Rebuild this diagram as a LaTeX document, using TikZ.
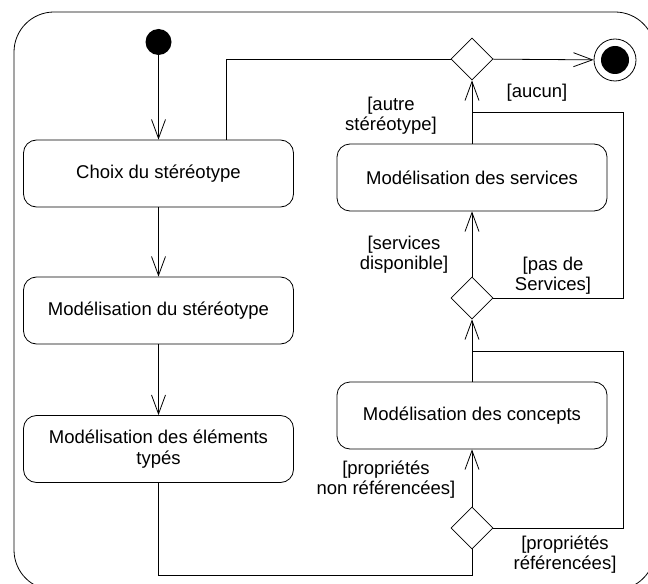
\documentclass[tikz,border=0pt]{standalone}
\usepackage{fontspec}
\setmainfont{Liberation Sans}
\usetikzlibrary{arrows.meta,shapes.geometric}
\begin{document}
\begin{tikzpicture}[x=1bp,y=-1bp, line width=0.8bp,
  act/.style={draw, rounded corners=13bp, minimum width=270bp, minimum height=67bp, align=center, font=\fontsize{18.5bp}{21bp}\selectfont, inner sep=0pt},
  dec/.style={draw, diamond, minimum width=42bp, minimum height=42bp, inner sep=0pt},
  lbl/.style={align=center, font=\fontsize{18.5bp}{20bp}\selectfont, inner sep=0pt},
  flow/.style={-{Straight Barb[length=19bp,width=14bp]}},
]
\useasboundingbox (0,0) rectangle (648,584);
\begin{scope}
\clip (0,0) rectangle (648,584);
\draw[rounded corners=40bp] (14,12) rectangle (655,590);
\end{scope}

\node[circle, fill, inner sep=0pt, minimum size=26bp] (init) at (158.5,42) {};
\node[act] (choix) at (158.5,173.5) {Choix du stéréotype};
\node[act] (mstereo) at (158.5,310.5) {Modélisation du stéréotype};
\node[act] (melem) at (158.5,449) {Modélisation des éléments\\typés};
\node[act] (mserv) at (472,177.5) {Modélisation des services};
\node[act] (mconc) at (472,415.5) {Modélisation des concepts};
\node[dec] (d1) at (472,59) {};
\node[dec] (d2) at (472,298) {};
\node[dec] (d3) at (472,528) {};
\node[circle, draw, minimum size=42bp, inner sep=0pt] (fin) at (615,60) {};
\node[circle, fill, minimum size=28bp, inner sep=0pt] (finin) at (615,60) {};

\coordinate (c1) at (226,59);
\coordinate (c2) at (158.5,575);
\coordinate (c3) at (623,351);
\coordinate (c4) at (623,112);

\draw[flow] (init) -- (choix);
\draw[flow] (choix) -- (mstereo);
\draw[flow] (mstereo) -- (melem);
\draw (choix.north -| c1) -- (c1) -- (d1.west);
\draw (melem.south) -- (c2) -| (d3.south);
\draw[flow] (d3) -- (mconc);
\draw (d3.east) -| (c3) -- (c3 -| d3);
\draw[flow] (mconc) -- (d2);
\draw (d2.east) -| (c4) -- (c4 -| d2);
\draw[flow] (d2) -- (mserv);
\draw[flow] (mserv) -- (d1);
\draw[flow] (d1) -- (fin);

\node[lbl] (l1) at (537,93) {[aucun]};
\node[lbl] (l2) at (391,116) {[autre\\stéréotype]};
\node[lbl] (l3) at (404,255) {[services\\disponible]};
\node[lbl] (l4) at (553,276) {[pas de\\Services]};
\node[lbl] (l5) at (386,480) {[propriétés\\non référencées]};
\node[lbl] (l6) at (565,555) {[propriétés\\référencées]};
\end{tikzpicture}
\end{document}
